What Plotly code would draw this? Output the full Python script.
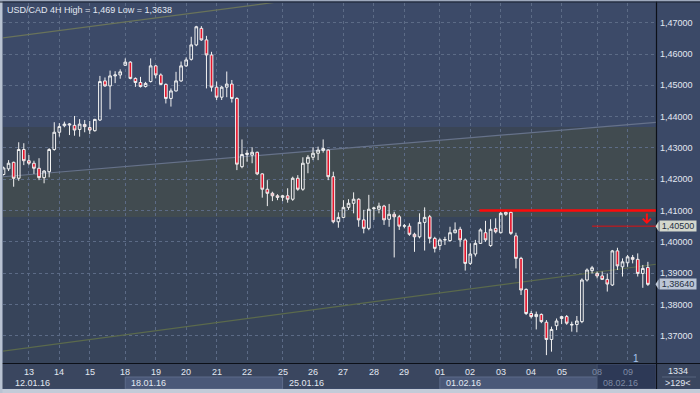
import plotly.graph_objects as go

# ---------------- data ----------------
TITLE = "USD/CAD 4H High = 1,469 Low = 1,3638"

OPEN = [1.4215, 1.4233, 1.4254, 1.4203, 1.4295, 1.4259, 1.4251, 1.4235, 1.4205, 1.4224,
        1.4295, 1.4350, 1.4371, 1.4373, 1.4372, 1.4359, 1.4375, 1.4365, 1.4355, 1.4389,
        1.4514, 1.4498, 1.4530, 1.4533, 1.4564, 1.4574, 1.4522, 1.4509, 1.4496, 1.4512,
        1.4562, 1.4533, 1.4503, 1.4458, 1.4482, 1.4514, 1.4562, 1.4583, 1.4629, 1.4682,
        1.4645, 1.4597, 1.4494, 1.4462, 1.4494, 1.4504, 1.4458, 1.4240, 1.4279, 1.4277,
        1.4286, 1.4217, 1.4168, 1.4155, 1.4147, 1.4142, 1.4147, 1.4136, 1.4203, 1.4168,
        1.4251, 1.4270, 1.4283, 1.4292, 1.4293, 1.4208, 1.4064, 1.4078, 1.4110, 1.4123,
        1.4136, 1.4070, 1.4043, 1.4106, 1.4104, 1.4114, 1.4072, 1.4088, 1.4080, 1.4050,
        1.4050, 1.4024, 1.4016, 1.4062, 1.4080, 1.4011, 1.3988, 1.4006, 1.4004, 1.4029,
        1.4040, 1.4006, 1.3931, 1.3961, 1.3995, 1.4029, 1.3988, 1.4043, 1.4029, 1.4088,
        1.4094, 1.4019, 1.3947, 1.3848, 1.3771, 1.3761, 1.3768, 1.3743, 1.3688, 1.3732,
        1.3755, 1.3761, 1.3734, 1.3736, 1.3745, 1.3878, 1.3908, 1.3899, 1.3891, 1.3880,
        1.3862, 1.3971, 1.3920, 1.3933, 1.3950, 1.3944, 1.3899, 1.3918]
HIGH = [1.4240, 1.4261, 1.4256, 1.4318, 1.4315, 1.4277, 1.4259, 1.4267, 1.4229, 1.4299,
        1.4382, 1.4379, 1.4384, 1.4379, 1.4402, 1.4392, 1.4389, 1.4386, 1.4393, 1.4530,
        1.4525, 1.4547, 1.4545, 1.4551, 1.4586, 1.4577, 1.4525, 1.4527, 1.4511, 1.4586,
        1.4565, 1.4538, 1.4506, 1.4490, 1.4543, 1.4576, 1.4589, 1.4655, 1.4690, 1.4689,
        1.4658, 1.4607, 1.4512, 1.4498, 1.4544, 1.4517, 1.4462, 1.4327, 1.4293, 1.4302,
        1.4288, 1.4219, 1.4197, 1.4160, 1.4152, 1.4150, 1.4171, 1.4208, 1.4213, 1.4270,
        1.4277, 1.4302, 1.4304, 1.4327, 1.4295, 1.4224, 1.4094, 1.4133, 1.4136, 1.4158,
        1.4139, 1.4102, 1.4150, 1.4112, 1.4125, 1.4118, 1.4121, 1.4096, 1.4086, 1.4057,
        1.4059, 1.4029, 1.4091, 1.4110, 1.4086, 1.4016, 1.4011, 1.4016, 1.4048, 1.4062,
        1.4048, 1.4011, 1.3995, 1.4006, 1.4043, 1.4067, 1.4072, 1.4075, 1.4096, 1.4101,
        1.4101, 1.4029, 1.3952, 1.3851, 1.3779, 1.3777, 1.3771, 1.3750, 1.3729, 1.3755,
        1.3763, 1.3766, 1.3745, 1.3763, 1.3883, 1.3915, 1.3923, 1.3905, 1.3905, 1.3899,
        1.3974, 1.3981, 1.3947, 1.3958, 1.3958, 1.3963, 1.3926, 1.3936]
LOW = [1.4212, 1.4226, 1.4176, 1.4195, 1.4245, 1.4245, 1.4217, 1.4197, 1.4187, 1.4206,
       1.4291, 1.4336, 1.4366, 1.4341, 1.4339, 1.4336, 1.4350, 1.4344, 1.4352, 1.4386,
       1.4495, 1.4423, 1.4507, 1.4521, 1.4562, 1.4519, 1.4495, 1.4493, 1.4493, 1.4509,
       1.4522, 1.4501, 1.4442, 1.4432, 1.4480, 1.4511, 1.4559, 1.4579, 1.4625, 1.4642,
       1.4490, 1.4480, 1.4453, 1.4453, 1.4462, 1.4445, 1.4229, 1.4235, 1.4256, 1.4251,
       1.4213, 1.4141, 1.4114, 1.4130, 1.4133, 1.4130, 1.4125, 1.4131, 1.4163, 1.4163,
       1.4219, 1.4261, 1.4261, 1.4285, 1.4197, 1.4059, 1.4045, 1.4075, 1.4102, 1.4091,
       1.4048, 1.4027, 1.4037, 1.4070, 1.4091, 1.4054, 1.4048, 1.3950, 1.4038, 1.4043,
       1.4019, 1.3968, 1.4011, 1.3972, 1.3995, 1.3966, 1.3974, 1.3990, 1.4000, 1.4027,
       1.3984, 1.3908, 1.3926, 1.3953, 1.3993, 1.4000, 1.3984, 1.4027, 1.4027, 1.4083,
       1.4022, 1.3915, 1.3830, 1.3766, 1.3755, 1.3720, 1.3740, 1.3638, 1.3649, 1.3718,
       1.3737, 1.3735, 1.3713, 1.3711, 1.3740, 1.3873, 1.3899, 1.3883, 1.3878, 1.3841,
       1.3859, 1.3910, 1.3889, 1.3920, 1.3931, 1.3889, 1.3853, 1.3859]
CLOSE = [1.4236, 1.4251, 1.4203, 1.4295, 1.4259, 1.4251, 1.4235, 1.4205, 1.4226, 1.4295,
         1.4350, 1.4368, 1.4376, 1.4376, 1.4357, 1.4376, 1.4368, 1.4357, 1.4391, 1.4512,
         1.4498, 1.4530, 1.4533, 1.4543, 1.4574, 1.4522, 1.4509, 1.4496, 1.4506, 1.4562,
         1.4533, 1.4503, 1.4458, 1.4482, 1.4514, 1.4562, 1.4581, 1.4629, 1.4687, 1.4645,
         1.4597, 1.4494, 1.4462, 1.4494, 1.4504, 1.4458, 1.4248, 1.4279, 1.4283, 1.4286,
         1.4217, 1.4168, 1.4155, 1.4147, 1.4142, 1.4147, 1.4136, 1.4203, 1.4168, 1.4251,
         1.4270, 1.4283, 1.4293, 1.4298, 1.4208, 1.4064, 1.4078, 1.4110, 1.4123, 1.4136,
         1.4070, 1.4043, 1.4104, 1.4108, 1.4114, 1.4070, 1.4088, 1.4080, 1.4050, 1.4051,
         1.4024, 1.4016, 1.4062, 1.4078, 1.4011, 1.3979, 1.4006, 1.4007, 1.4029, 1.4038,
         1.4006, 1.3931, 1.3961, 1.3995, 1.4038, 1.4006, 1.4040, 1.4032, 1.4091, 1.4094,
         1.4027, 1.3947, 1.3846, 1.3771, 1.3761, 1.3768, 1.3745, 1.3688, 1.3720, 1.3747,
         1.3761, 1.3740, 1.3736, 1.3747, 1.3878, 1.3910, 1.3917, 1.3891, 1.3880, 1.3865,
         1.3971, 1.3923, 1.3936, 1.3952, 1.3944, 1.3899, 1.3915, 1.3864]
BAR_INDEX = list(range(len(CLOSE)))

DAY_LABELS = ["13", "14", "15", "18", "19", "20", "21", "22", "25", "26", "27", "28", "29",
              "01", "02", "03", "04", "05", "08", "09"]
DAY_START_IDX = [5, 11, 17, 24, 30, 36, 42, 48, 55, 61, 67, 73, 79, 86, 92, 98, 104, 110, 117, 123]
WEEK_LABELS = ["12.01.16", "18.01.16", "25.01.16", "01.02.16", "08.02.16"]
WEEK_START_IDX = [0, 24, 55, 86, 117]
Y_TICKS = [1.37, 1.38, 1.39, 1.40, 1.41, 1.42, 1.43, 1.44, 1.45, 1.46, 1.47]

# trend lines: (bar index, price) anchor pairs
UPPER_LINE = [(0, 1.4652), (52, 1.4762)]
MID_LINE = [(0, 1.4208), (128, 1.4381)]
LOWER_LINE = [(0, 1.3651), (128, 1.3927)]
ZONE = (1.4079, 1.4367)           # shaded horizontal zone
RESIST_LEVEL, RESIST_FROM = 1.4100, 93.8
TARGET_LEVEL, TARGET_FROM = 1.4050, 116.0
LAST_PRICE = 1.3864
ARROW_AT = (126.8, 1.4057)
BAR_COUNT_TEXT = ["1334", ">129<"]

# ---------------- style ----------------
X_RANGE = [-0.1, 128.6]
Y_RANGE = [1.361278, 1.476294]
FONT = "Liberation Sans"
TOP_BG = "#3c4a68"
LOW_BG = "#37445a"
ZONE_BG = "#3a4556"
CHAN_BG = "#414b50"
GRID = "#5c6b86"
RED = "#e5142b"
TXT = "#e2e8f2"
DIM = "#7e8ba4"

W, H = 700, 393
ML, MR, MT, MB = 3, 44, 3, 30
PW, PH = W - ML - MR, H - MT - MB


def px_x(p):
    return (p - ML) / PW


def px_y(p):
    return (H - MB - p) / PH


def line_at(pts, x):
    (x0, y0), (x1, y1) = pts
    return y0 + (y1 - y0) * (x - x0) / (x1 - x0)


fig = go.Figure()
fig.add_trace(go.Candlestick(
    x=BAR_INDEX, open=OPEN, high=HIGH, low=LOW, close=CLOSE,
    increasing=dict(line=dict(color="#f2f2f2", width=1), fillcolor="rgba(0,0,0,0)"),
    decreasing=dict(line=dict(color="#f2f2f2", width=1), fillcolor=RED),
    whiskerwidth=0, hoverinfo="skip",
))

shapes = []
# background regions
shapes.append(dict(type="rect", xref="paper", yref="y", x0=0, x1=1, y0=ZONE[1], y1=Y_RANGE[1] + 0.01,
                   fillcolor=TOP_BG, line=dict(width=0), layer="below"))
shapes.append(dict(type="rect", xref="paper", yref="y", x0=0, x1=1, y0=ZONE[0], y1=ZONE[1],
                   fillcolor=ZONE_BG, line=dict(width=0), layer="below"))
xa, xb = X_RANGE[0] - 1, X_RANGE[1] + 1
slope = (MID_LINE[1][1] - MID_LINE[0][1]) / (MID_LINE[1][0] - MID_LINE[0][0])
x_int = MID_LINE[0][0] + (ZONE[1] - MID_LINE[0][1]) / slope
path = (f"M {xa},{ZONE[0]} L {xa},{line_at(MID_LINE, xa)} L {x_int},{ZONE[1]} "
        f"L {xb},{ZONE[1]} L {xb},{ZONE[0]} Z")
shapes.append(dict(type="path", xref="x", yref="y", path=path, fillcolor=CHAN_BG,
                   line=dict(width=0), layer="below"))

# trend lines
for pts, col in [(UPPER_LINE, "#69735a"), (MID_LINE, "#66728a"), (LOWER_LINE, "#5b6a4c")]:
    shapes.append(dict(type="line", xref="x", yref="y", x0=xa, x1=xb,
                       y0=line_at(pts, xa), y1=line_at(pts, xb),
                       line=dict(color=col, width=1.2), layer="between"))

# red levels
shapes.append(dict(type="line", xref="x", yref="y", x0=RESIST_FROM, x1=X_RANGE[1] + 1,
                   y0=RESIST_LEVEL, y1=RESIST_LEVEL, line=dict(color="#ff0a0a", width=2.6), layer="above"))
shapes.append(dict(type="line", xref="x", yref="y", x0=TARGET_FROM, x1=X_RANGE[1] + 1,
                   y0=TARGET_LEVEL, y1=TARGET_LEVEL, line=dict(color="#e01010", width=1), layer="above"))

# bottom panel
shapes.append(dict(type="rect", xref="paper", yref="paper", x0=px_x(0), x1=px_x(W),
                   y0=px_y(388), y1=px_y(363), fillcolor="#3a465f", line=dict(width=0), layer="below"))
for k in (1, 3):
    shapes.append(dict(type="rect", xref="x", yref="paper", x0=WEEK_START_IDX[k], x1=WEEK_START_IDX[k + 1],
                       y0=px_y(389), y1=px_y(377), fillcolor="#4a5878",
                       line=dict(color="#5d6b8a", width=1), layer="below"))
shapes.append(dict(type="rect", xref="x", yref="paper", x0=WEEK_START_IDX[4], x1=X_RANGE[1],
                   y0=px_y(389), y1=px_y(364), fillcolor="#2d3956",
                   line=dict(color="#46536e", width=1), layer="below"))
# frame lines
shapes.append(dict(type="line", xref="paper", yref="paper", x0=px_x(656.5), x1=px_x(656.5),
                   y0=px_y(389), y1=px_y(0), line=dict(color="#0c1018", width=1.2), layer="above"))
shapes.append(dict(type="line", xref="paper", yref="paper", x0=px_x(0), x1=px_x(W),
                   y0=px_y(363.5), y1=px_y(363.5), line=dict(color="#0c1018", width=1.2), layer="above"))
shapes.append(dict(type="line", xref="paper", yref="paper", x0=px_x(662), x1=px_x(696),
                   y0=px_y(377), y1=px_y(377), line=dict(color="#56647e", width=1), layer="above"))
# window borders
shapes.append(dict(type="rect", xref="paper", yref="paper", x0=px_x(0), x1=px_x(W),
                   y0=px_y(H), y1=px_y(389), fillcolor="#c3cbd8", line=dict(width=0), layer="above"))
shapes.append(dict(type="rect", xref="paper", yref="paper", x0=px_x(0), x1=px_x(2.5),
                   y0=px_y(H), y1=px_y(0), fillcolor="#b9c3d2", line=dict(width=0), layer="above"))
shapes.append(dict(type="rect", xref="paper", yref="paper", x0=px_x(0), x1=px_x(W),
                   y0=px_y(1.5), y1=px_y(0), fillcolor="#9ea9bd", line=dict(width=0), layer="above"))
shapes.append(dict(type="rect", xref="paper", yref="paper", x0=px_x(0), x1=px_x(W),
                   y0=px_y(2.6), y1=px_y(1.5), fillcolor="#1a2230", line=dict(width=0), layer="above"))

annotations = []
annotations.append(dict(text=TITLE, xref="paper", yref="paper", x=px_x(5), y=px_y(2.5),
                        xanchor="left", yanchor="top", showarrow=False,
                        font=dict(family=FONT, size=9, color=TXT)))
# price tags
for val, bg in [(TARGET_LEVEL, "#d3d7cd"), (LAST_PRICE, "#bcc6d6")]:
    txt = f"{val:.5f}".replace(".", ",")
    annotations.append(dict(text=txt, xref="paper", yref="y", x=px_x(658.5), y=val,
                            xanchor="left", yanchor="middle", showarrow=False, bgcolor=bg,
                            borderpad=0, width=36, height=10,
                            font=dict(family=FONT, size=9, color="#253042")))
    shapes.append(dict(type="path", xref="paper", yref="y",
                       path=f"M {px_x(655.5)},{val} L {px_x(658.6)},{val + 0.0016} L {px_x(658.6)},{val - 0.0016} Z",
                       fillcolor=bg, line=dict(width=0), layer="above"))
# arrow
annotations.append(dict(text="", x=ARROW_AT[0], y=ARROW_AT[1], xref="x", yref="y",
                        showarrow=True, ax=0, ay=-12, arrowhead=4, arrowsize=0.8,
                        arrowwidth=2, arrowcolor="#ff1010"))
# day labels
for lab, idx in zip(DAY_LABELS, DAY_START_IDX):
    col = DIM if idx >= WEEK_START_IDX[4] else TXT
    annotations.append(dict(text=lab, xref="x", yref="paper", x=idx, y=px_y(372),
                            xanchor="center", yanchor="middle", showarrow=False,
                            font=dict(family=FONT, size=9, color=col)))
# week labels
for k, (lab, idx) in enumerate(zip(WEEK_LABELS, WEEK_START_IDX)):
    col = DIM if k == 4 else TXT
    shift = 9 if k == 0 else 4
    annotations.append(dict(text=lab, xref="x", yref="paper", x=idx, y=px_y(383),
                            xanchor="left", yanchor="middle", xshift=shift, showarrow=False,
                            font=dict(family=FONT, size=9, color=col)))
annotations.append(dict(text="1", xref="x", yref="paper", x=124.7, y=px_y(358),
                        xanchor="center", yanchor="middle", showarrow=False,
                        font=dict(family=FONT, size=10, color="#a6c4ee")))
annotations.append(dict(text=BAR_COUNT_TEXT[0], xref="paper", yref="paper", x=px_x(678.5), y=px_y(371),
                        xanchor="center", yanchor="middle", showarrow=False,
                        font=dict(family=FONT, size=9, color=TXT)))
annotations.append(dict(text=BAR_COUNT_TEXT[1], xref="paper", yref="paper", x=px_x(678.5), y=px_y(383),
                        xanchor="center", yanchor="middle", showarrow=False,
                        font=dict(family=FONT, size=9, color=TXT)))

fig.update_layout(
    width=W, height=H, autosize=False,
    margin=dict(l=ML, r=MR, t=MT, b=MB, pad=0),
    paper_bgcolor="#3b4967", plot_bgcolor=LOW_BG,
    separators=",.", showlegend=False, boxgap=0.25,
    shapes=shapes, annotations=annotations,
    xaxis=dict(range=X_RANGE, tickvals=DAY_START_IDX, showticklabels=False, ticks="",
               showgrid=True, gridcolor=GRID, griddash="3px,3px", gridwidth=1,
               zeroline=False, showline=False, rangeslider=dict(visible=False), fixedrange=True),
    yaxis=dict(range=Y_RANGE, side="right", tickvals=Y_TICKS, tickformat=".5f", ticks="",
               showgrid=True, gridcolor=GRID, griddash="3px,3px", gridwidth=1,
               zeroline=False, showline=False, ticklabelstandoff=3, fixedrange=True,
               tickfont=dict(family=FONT, size=9, color=TXT)),
)

fig.write_html("out.html", config={"displayModeBar": False},
               post_script="document.body.style.margin='0';document.body.style.overflow='hidden';")
